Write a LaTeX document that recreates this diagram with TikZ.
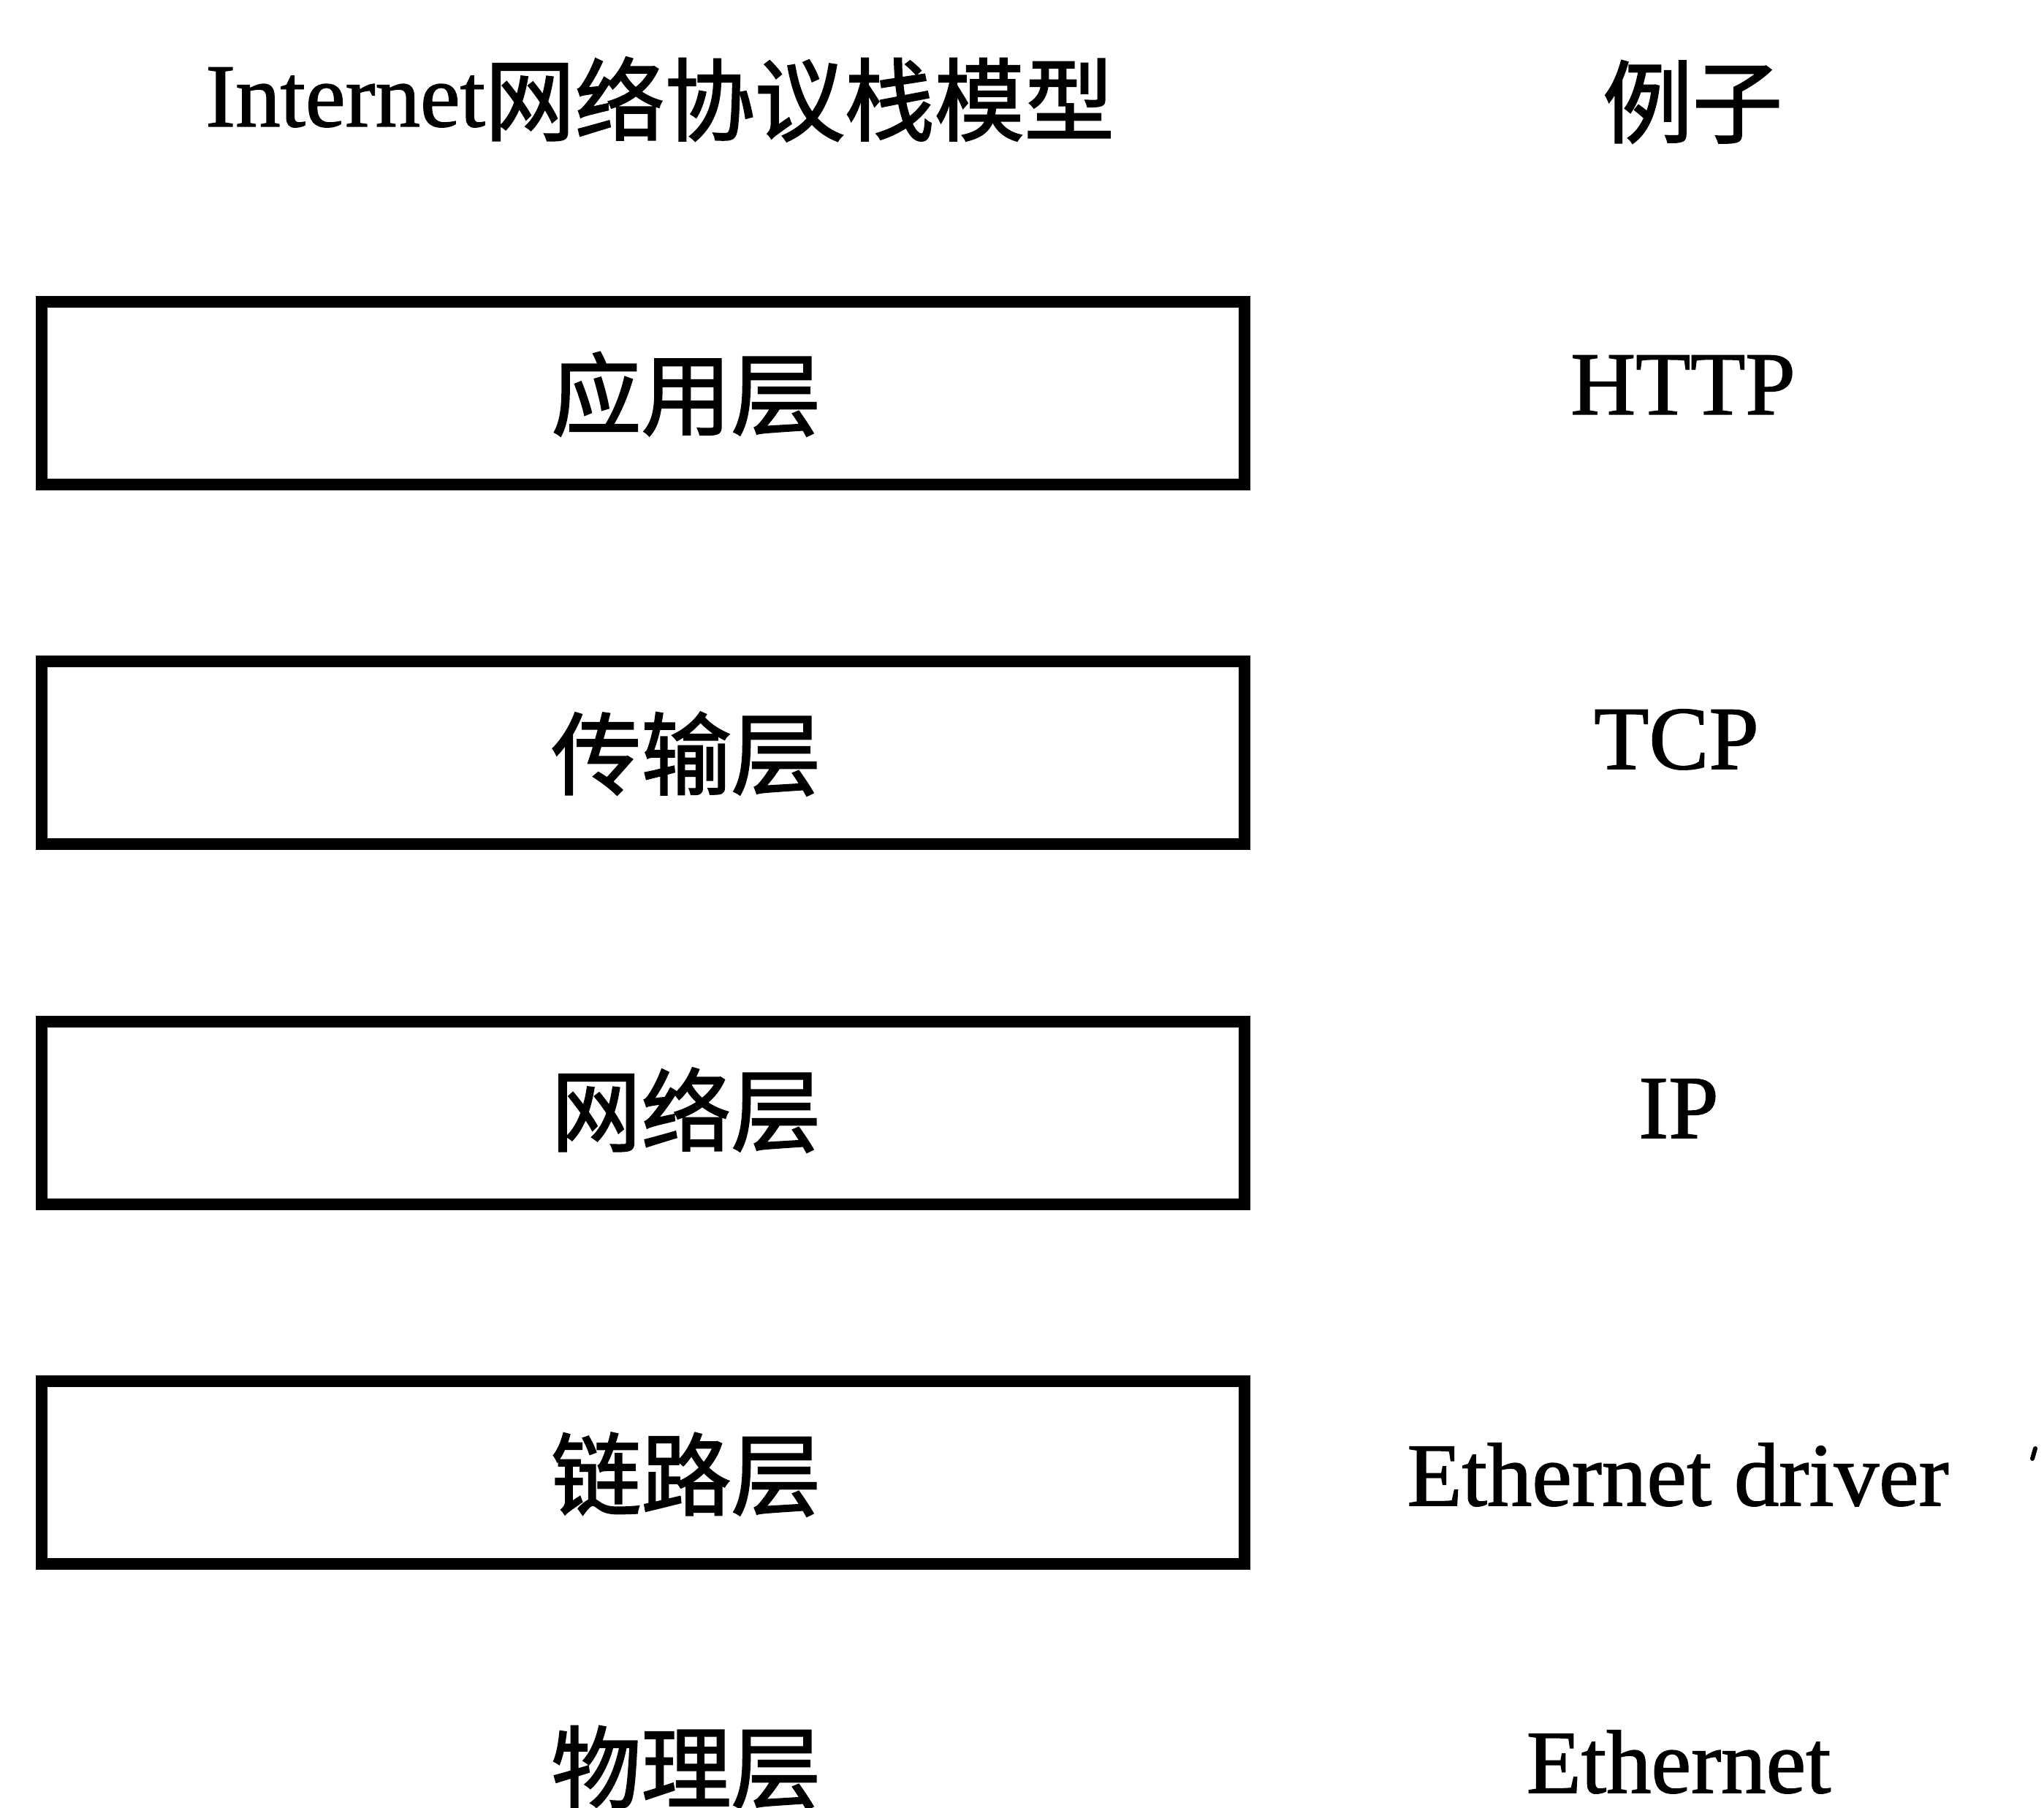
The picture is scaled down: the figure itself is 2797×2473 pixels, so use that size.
\documentclass[tikz,border=0pt]{standalone}
\usepackage{fontspec}
\setmainfont[FakeBold=1.2]{Liberation Serif}
\newfontfamily\cjk[FakeBold=1.8]{Noto Sans CJK SC}
\begin{document}
\begin{tikzpicture}[x=0.1pt,y=-0.1pt,
  layerbox/.style={draw=black, line width=1.6pt, rectangle, inner sep=0pt,
    minimum width=164.6pt, minimum height=25pt},
  lbl/.style={anchor=base, inner sep=0pt, font=\fontsize{12.3pt}{14pt}\selectfont},
  cjklbl/.style={lbl, font=\fontsize{12.3pt}{14pt}\selectfont\cjk}]
\useasboundingbox (0,0) rectangle (2797,2473);
\fill[white] (0,0) rectangle (2797,2473);
% headings
\node[lbl] (title) at (903,173) {Internet\raisebox{-1pt}{\cjk 网络协议栈模型}};
\node[cjklbl] (ex) at (2316,186) {例子};
% layer boxes
\node[layerbox] (app) at (880,538) {};
\node[layerbox] (trans) at (880,1030) {};
\node[layerbox] (net) at (880,1523) {};
\node[layerbox] (link) at (880,2015) {};
% layer labels
\node[cjklbl] (appl) at (939,586) {应用层};
\node[cjklbl] (transl) at (939,1078) {传输层};
\node[cjklbl] (netl) at (939,1566) {网络层};
\node[cjklbl] (linkl) at (939,2064) {链路层};
\node[cjklbl] (phyl) at (939,2465) {物理层};
% examples
\node[lbl] (http) at (2303,567) {HTTP};
\node[lbl] (tcp) at (2294,1052) {TCP};
\node[lbl] (ip) at (2297,1557) {IP};
\node[lbl] (drv) at (2296,2060) {Ethernet driver};
\node[lbl] (eth) at (2297,2453) {Ethernet};
% stray mark
\draw[line width=0.6pt, line cap=round] (2785,1982) -- (2781,1996);
\end{tikzpicture}
\end{document}
